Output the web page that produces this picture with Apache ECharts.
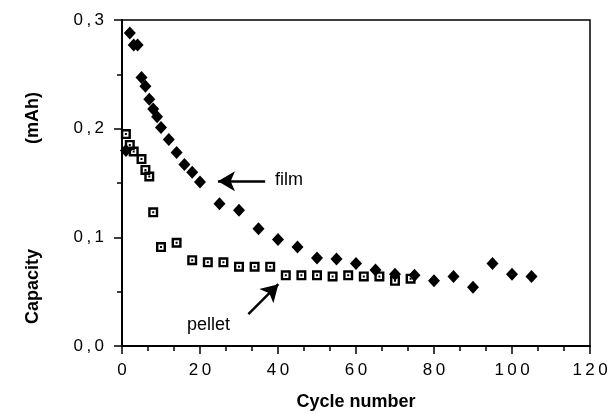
<!DOCTYPE html>
<html>
<head>
<meta charset="utf-8">
<script src="https://cdn.jsdelivr.net/npm/echarts@6/dist/echarts.min.js"></script>
<style>
  html, body { margin: 0; padding: 0; background: #fff; }
  #chart { width: 611px; height: 416px; }
</style>
</head>
<body>
<div id="chart"></div>
<script>
// cycle numbers and capacities (mAh)
var filmCycles = [1, 2, 3, 4, 5, 6, 7, 8, 9, 10, 12, 14, 16, 18, 20, 25, 30, 35, 40, 45, 50, 55, 60, 65, 70, 75, 80, 85, 90, 95, 100, 105];
var filmCapacity = [0.180, 0.288, 0.277, 0.277, 0.247, 0.239, 0.227, 0.218, 0.211, 0.201, 0.190, 0.178, 0.167, 0.160, 0.151, 0.131, 0.125, 0.108, 0.098, 0.091, 0.081, 0.080, 0.076, 0.070, 0.066, 0.065, 0.060, 0.064, 0.054, 0.076, 0.066, 0.064];

var pelletCycles = [1, 2, 3, 5, 6, 7, 8, 10, 14, 18, 22, 26, 30, 34, 38, 42, 46, 50, 54, 58, 62, 66, 70, 74];
var pelletCapacity = [0.195, 0.185, 0.179, 0.172, 0.162, 0.156, 0.123, 0.091, 0.095, 0.079, 0.077, 0.077, 0.073, 0.073, 0.073, 0.065, 0.065, 0.065, 0.064, 0.065, 0.064, 0.064, 0.060, 0.062];

// annotation arrows: [tail, head] in data coords
var filmArrow = [[36.7, 0.1517], [24.6, 0.1517]];
var pelletArrow = [[32.4, 0.0294], [40.1, 0.0569]];
var filmLabelAt = [42.8, 0.153];
var pelletLabelAt = [22.2, 0.019];

function pairs(xs, ys) {
  return xs.map(function (x, i) { return [x, ys[i]]; });
}

// spread digits a little, like the typeset labels
function spaced(s) {
  return s.split('').join('\u2009');
}

var chart = echarts.init(document.getElementById('chart'));

var font = 'Liberation Sans, Arial, Helvetica, sans-serif';
var squareMark = 'path://M0,0H10V10H0Z M2.4,2.4V7.6H7.6V2.4Z M4,4H6V6H4Z';

var option = {
  animation: false,
  textStyle: { fontFamily: font, color: '#000' },
  grid: {
    left: 122, right: 21, top: 20, bottom: 69,
    show: true, borderColor: '#000', borderWidth: 1.5
  },
  xAxis: {
    type: 'value',
    min: 0, max: 120, interval: 20,
    name: 'Cycle number',
    nameLocation: 'middle',
    nameGap: 47,
    nameTextStyle: { fontSize: 18, fontWeight: 'bold', color: '#000' },
    axisLine: { onZero: false, lineStyle: { color: '#000', width: 2 } },
    axisTick: { length: 8, lineStyle: { color: '#000', width: 1.5 } },
    minorTick: { show: true, splitNumber: 3, length: 5, lineStyle: { color: '#000', width: 1.5 } },
    splitLine: { show: false },
    axisLabel: {
      margin: 16, fontSize: 17, color: '#000',
      formatter: function (v) { return spaced(String(v)); }
    }
  },
  yAxis: {
    type: 'value',
    min: 0, max: 0.3, interval: 0.1,
    name: 'Capacity                     (mAh)',
    nameLocation: 'middle',
    nameGap: 80,
    nameTextStyle: { fontSize: 18, fontWeight: 'bold', color: '#000', padding: [0, 50, 0, 0] },
    axisLine: { onZero: false, lineStyle: { color: '#000', width: 2 } },
    axisTick: { length: 8, lineStyle: { color: '#000', width: 1.5 } },
    minorTick: { show: true, splitNumber: 2, length: 5, lineStyle: { color: '#000', width: 1.5 } },
    splitLine: { show: false },
    axisLabel: {
      margin: 18, fontSize: 17, color: '#000',
      formatter: function (v) { return spaced(v.toFixed(1).replace('.', ',')); }
    }
  },
  series: [
    {
      name: 'film',
      type: 'scatter',
      symbol: 'diamond',
      symbolSize: [12, 13],
      itemStyle: { color: '#000', opacity: 1 },
      data: pairs(filmCycles, filmCapacity),
      markLine: {
        silent: true,
        symbol: ['none', 'arrow'],
        symbolSize: [15, 17],
        label: { show: false },
        lineStyle: { color: '#000', width: 2.5, type: 'solid' },
        data: [
          [{ coord: filmArrow[0] }, { coord: filmArrow[1] }],
          [{ coord: pelletArrow[0] }, { coord: pelletArrow[1] }]
        ]
      },
      markPoint: {
        silent: true,
        symbol: 'circle',
        symbolSize: 0,
        label: { show: true, position: 'inside', fontSize: 18, color: '#000', fontFamily: font,
          formatter: function (p) { return p.name; } },
        data: [
          { name: 'film', coord: filmLabelAt },
          { name: 'pellet', coord: pelletLabelAt }
        ]
      }
    },
    {
      name: 'pellet',
      type: 'scatter',
      symbol: squareMark,
      symbolSize: 10,
      itemStyle: { color: '#000', opacity: 1 },
      data: pairs(pelletCycles, pelletCapacity)
    }
  ]
};

chart.setOption(option);
</script>
</body>
</html>
